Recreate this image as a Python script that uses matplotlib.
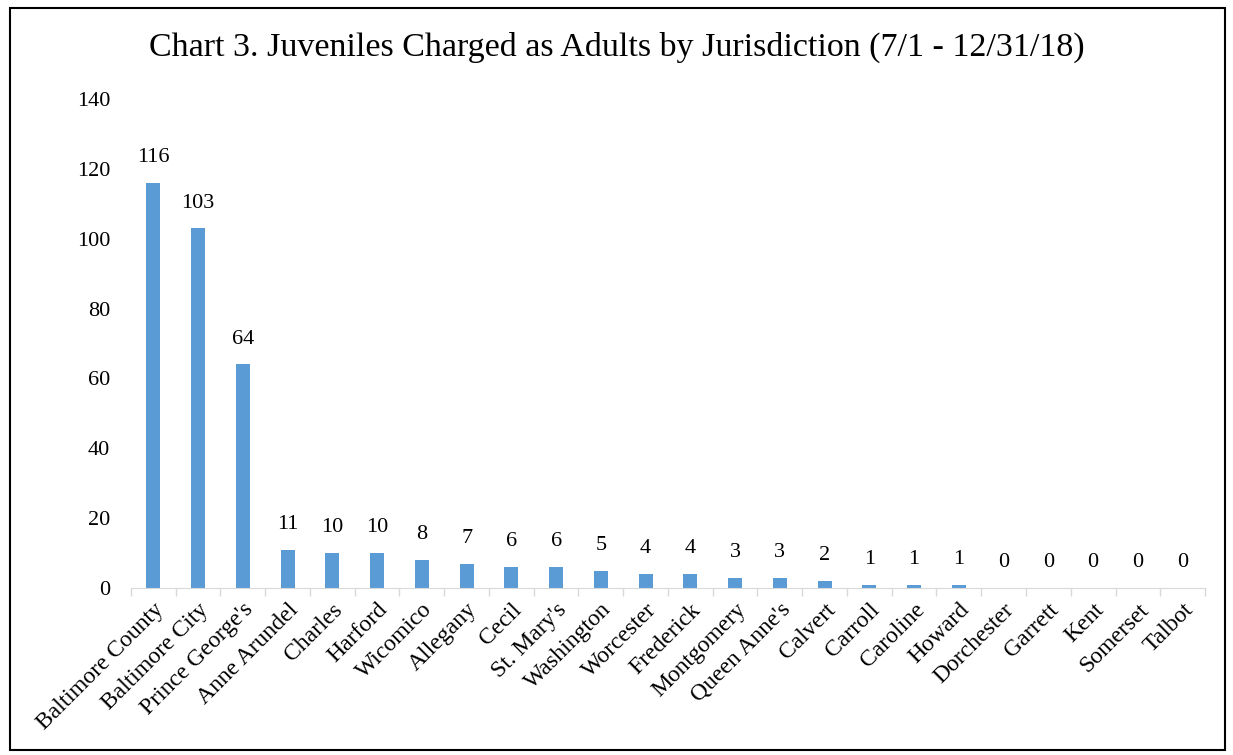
import matplotlib.pyplot as plt
from matplotlib.patches import Rectangle

jurisdictions = ["Baltimore County", "Baltimore City", "Prince George's", "Anne Arundel",
                 "Charles", "Harford", "Wicomico", "Allegany", "Cecil", "St. Mary's",
                 "Washington", "Worcester", "Frederick", "Montgomery", "Queen Anne's",
                 "Calvert", "Carroll", "Caroline", "Howard", "Dorchester", "Garrett",
                 "Kent", "Somerset", "Talbot"]
counts = [116, 103, 64, 11, 10, 10, 8, 7, 6, 6, 5, 4, 4, 3, 3, 2, 1, 1, 1, 0, 0, 0, 0, 0]
yticks = [0, 20, 40, 60, 80, 100, 120, 140]

plt.rcParams['font.family'] = ['Liberation Serif', 'DejaVu Serif']

fig = plt.figure(figsize=(12.33, 7.55), dpi=100)
ax = fig.add_axes([0.1062, 0.2212, 0.8711, 0.6477])

x = list(range(len(jurisdictions)))
ax.bar(x, counts, width=0.31, color='#5B9BD5')
for xi, v in zip(x, counts):
    ax.text(xi, v + 4.5, str(v), ha='center', va='bottom', fontsize=16)

ax.set_xlim(-0.5, len(jurisdictions) - 0.5)
ax.set_ylim(0, 140)
ax.set_yticks(yticks)
ax.tick_params(axis='y', length=0, labelsize=16, pad=15)

ax.set_xticks(x)
ax.set_xticklabels(jurisdictions, rotation=45, ha='right', rotation_mode='anchor', fontsize=17)
ax.tick_params(axis='x', length=0, pad=8)
ax.set_xticks([i - 0.5 for i in range(len(jurisdictions) + 1)], minor=True)
ax.tick_params(axis='x', which='minor', length=6, color='#D9D9D9', width=1)

for s in ['top', 'right', 'left']:
    ax.spines[s].set_visible(False)
ax.spines['bottom'].set_color('#D9D9D9')

fig.text(0.5, 0.937, "Chart 3. Juveniles Charged as Adults by Jurisdiction (7/1 - 12/31/18)",
         ha='center', va='center', fontsize=24.5)

fig.patches.append(Rectangle((10 / 1233, 5 / 755), 1215 / 1233, 742 / 755,
                             transform=fig.transFigure, fill=False,
                             edgecolor='black', linewidth=1.5))

fig.savefig('out.png', dpi=100)
